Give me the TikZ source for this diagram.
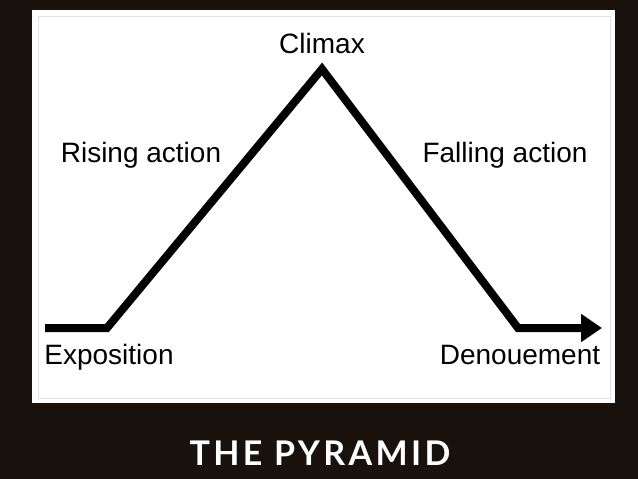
\documentclass[tikz,border=0pt]{standalone}
\usepackage{fontspec}
\setmainfont{Liberation Sans}
\newfontfamily\titlefont[LetterSpace=10]{Lato}
\usetikzlibrary{arrows.meta,positioning}
\definecolor{boardbg}{RGB}{24,17,12}
\definecolor{panelline}{RGB}{225,225,225}

\begin{document}
\begin{tikzpicture}[x=1pt,y=-1pt,
    lbl/.style={font=\fontsize{28}{30}\selectfont,anchor=base,inner sep=0pt},
    plot/.style={line width=8pt,line join=miter,
      -{Triangle[length=21pt,width=27pt]}}]
        %% background and panel
        \fill[boardbg] (0,0) rectangle (638,479);
        \useasboundingbox (0,0) rectangle (638,479);
        \fill[white] (32,10) rectangle (615,403);
        \draw[panelline,line width=0.8pt] (38,16) rectangle (610,398);
        %% points of the curve
        \coordinate (start) at (45,328);
        \coordinate (expo) at (107,328);
        \coordinate (peak) at (322,69);
        \coordinate (deno) at (518,328);
        \coordinate (tip) at (602,328);
        \draw[plot] (start) -- (expo) -- (peak) -- (deno) -- (tip);
        %% labels
        \node[lbl] (climax) at (322,53) {Climax};
        \node[lbl] (rising) at (141,162) {Rising action};
        \node[lbl] (falling) at (505,162) {Falling action};
        \node[lbl] (exposition) at (109,364) {Exposition};
        \node[lbl] (denouement) at (520,364) {Denouement};
        %% title
        \node[font=\titlefont\bfseries\fontsize{34}{36}\selectfont,
          text=white,anchor=base] (title) at (320,465) {THE PYRAMID};
      \end{tikzpicture}
\end{document}
